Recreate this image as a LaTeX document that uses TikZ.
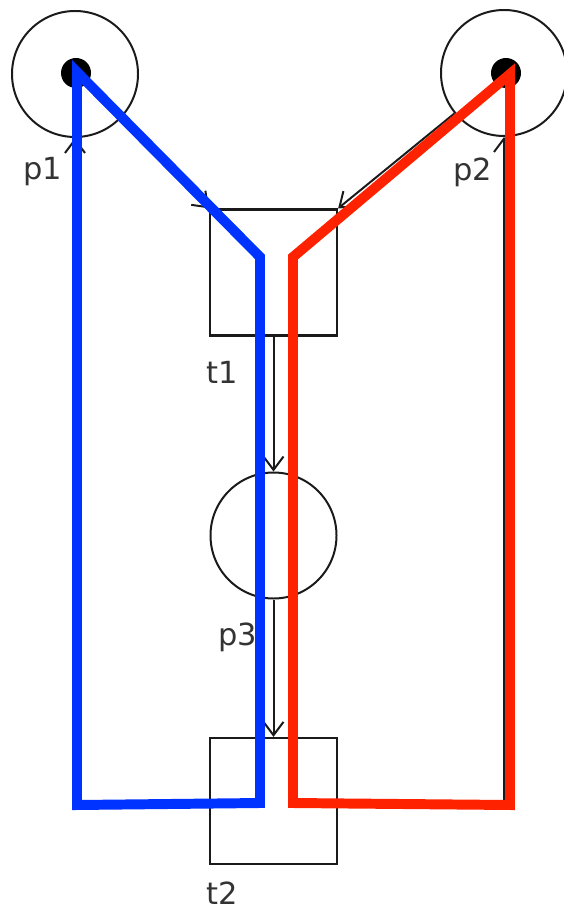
\documentclass[tikz,border=0pt]{standalone}
\usepackage{fontspec}
\setmainfont{DejaVu Sans}
\usetikzlibrary{arrows.meta}
\definecolor{ink}{HTML}{1A1A1A}
\definecolor{txt}{HTML}{333333}
\definecolor{blueway}{HTML}{0033FF}
\definecolor{redway}{HTML}{FF2200}
\tikzset{
  place/.style={draw=ink,circle,line width=1.7pt,minimum size=37.8mm,inner sep=0pt},
  trans/.style={draw=ink,line width=1.9pt,minimum width=38.1mm,minimum height=37.8mm,inner sep=0pt},
  token/.style={fill=black,circle,minimum size=9mm,inner sep=0pt},
  arc/.style={-{Straight Barb[length=4mm,width=6mm]},line width=1.7pt,draw=ink},
  lbl/.style={font=\fontsize{26}{30}\selectfont,text=txt,inner sep=0pt},
  way/.style={line width=8.5pt,miter limit=10}
}

\begin{document}
\begin{tikzpicture}[x=0.3mm,y=-0.3mm]
  \useasboundingbox (0,0) rectangle (563,913);
  % places and transitions
  \node[place] (p1) at (75,74) {};
  \node[place] (p2) at (504,73) {};
  \node[place] (p3) at (273.5,535.5) {};
  \node[trans] (t1) at (273.5,272.5) {};
  \node[trans] (t2) at (273.5,801) {};
  \node[token] (k1) at (76,73) {};
  \node[token] (k2) at (506,73) {};
  % labels
  \node[lbl] (p1lbl) at (43,172) {p1};
  \node[lbl] (p2lbl) at (473,172) {p2};
  \node[lbl] (t1lbl) at (222,372) {t1};
  \node[lbl] (p3lbl) at (238,637) {p3};
  \node[lbl] (t2lbl) at (222,893) {t2};
  % arcs
  \draw[arc] (p1) -- (t1.north west);
  \draw[arc] (p2) -- (t1.north east);
  \draw[arc] (t1) -- (p3);
  \draw[arc] (p3) -- (t2);
  \draw[arc] (t2.west) -| (p1.south);
  \draw[arc] (t2.east) -| (p2.south);
  % the two coloured paths
  \coordinate (b1) at (77,72);
  \coordinate (b2) at (260,257);
  \coordinate (b3) at (260,803);
  \coordinate (b4) at (77,805);
  \coordinate (r1) at (510,74);
  \coordinate (r2) at (293,257);
  \coordinate (r3) at (293,803);
  \coordinate (r4) at (510,805);
  \draw[way,draw=blueway] (b1) -- (b2) -- (b3) -- (b4) -- cycle;
  \draw[way,draw=redway] (r1) -- (r2) -- (r3) -- (r4) -- cycle;
\end{tikzpicture}
\end{document}
